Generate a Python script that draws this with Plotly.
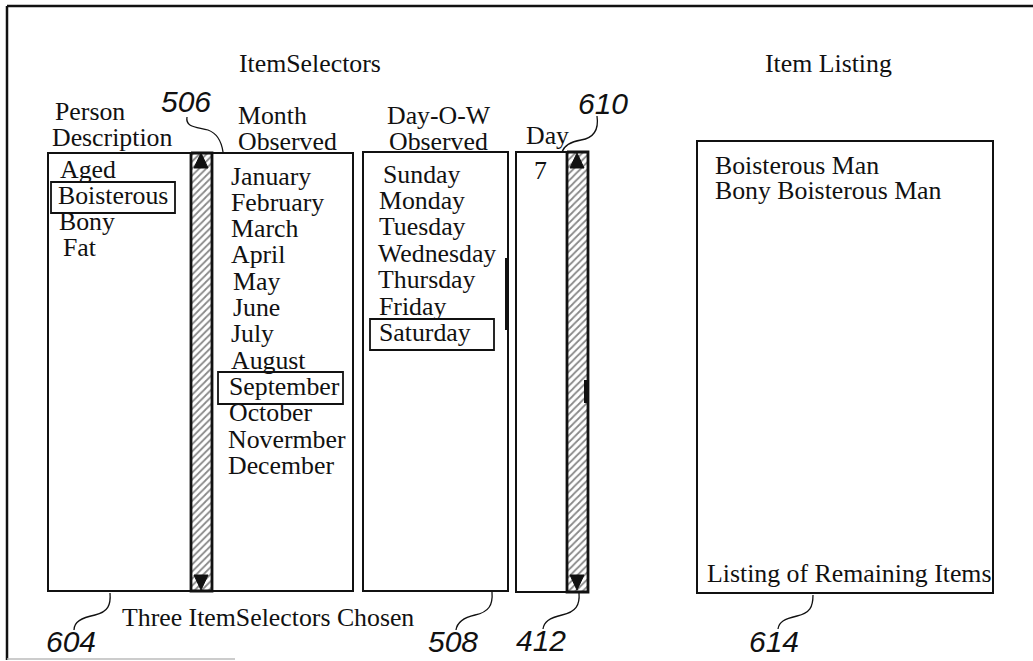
import plotly.graph_objects as go

# ---- data (text content of the diagram) ----
title_left = "ItemSelectors"
title_right = "Item Listing"
person_header = ["Person", "Description"]
month_header = ["Month", "Observed"]
dow_header = ["Day-O-W", "Observed"]
day_header = ["Day"]
person_items = ["Aged", "Boisterous", "Bony", "Fat"]
person_x = [58, 56, 57, 61]
month_items = ["January", "February", "March", "April", "May", "June", "July",
               "August", "September", "October", "Novermber", "December"]
month_x = [229, 229, 229, 229, 231, 231, 229, 229, 227, 227, 226, 226]
dow_items = ["Sunday", "Monday", "Tuesday", "Wednesday", "Thursday", "Friday", "Saturday"]
dow_x = [381, 377, 377, 376, 376, 377, 377]
day_value = ["7"]
listing_items = ["Boisterous Man", "Bony Boisterous Man"]
listing_footer = "Listing of Remaining Items"
chosen_caption = "Three ItemSelectors Chosen"
ref_numbers = ["506", "610", "604", "508", "412", "614"]

W, H = 1033, 661
SERIF = "Liberation Serif"
SANS = "Liberation Sans"
FS = 25.8
BLACK = "#111111"

fig = go.Figure()
shapes = []
ann = []

def text(x, y, s, anchor="left", size=FS, family=SERIF, italic=False):
    ann.append(dict(x=x, y=y, xref="x", yref="y", text=s, showarrow=False,
                    xanchor=anchor, yanchor="middle",
                    font=dict(family=family, size=size, color=BLACK,
                              style="italic" if italic else "normal")))

def rect(x0, y0, x1, y1, w=2):
    shapes.append(dict(type="rect", x0=x0, y0=y0, x1=x1, y1=y1, xref="x", yref="y",
                       line=dict(color=BLACK, width=w), fillcolor="rgba(0,0,0,0)"))

def line(x0, y0, x1, y1, w=2, color=BLACK):
    shapes.append(dict(type="line", x0=x0, y0=y0, x1=x1, y1=y1, xref="x", yref="y",
                       line=dict(color=color, width=w)))

def path(p, w=1.3, fill=None):
    d = dict(type="path", path=p, xref="x", yref="y", line=dict(color=BLACK, width=w))
    if fill:
        d["fillcolor"] = fill
    shapes.append(d)

def hatched(x0, y0, x1, y1):
    fig.add_trace(go.Scatter(x=[x0, x1, x1, x0, x0], y=[y0, y0, y1, y1, y0],
                             mode="lines", fill="toself",
                             line=dict(color=BLACK, width=2.8),
                             fillcolor="white",
                             fillpattern=dict(shape="/", fgcolor=BLACK, bgcolor="white",
                                              size=5, solidity=0.35),
                             hoverinfo="skip", showlegend=False))

def tri_up(cx, top, h=15, hw=7):
    path(f"M {cx-hw},{top+h} L {cx+hw},{top+h} L {cx},{top} Z", w=1, fill=BLACK)

def tri_down(cx, bottom, h=15, hw=7):
    path(f"M {cx-hw},{bottom-h} L {cx+hw},{bottom-h} L {cx},{bottom} Z", w=1, fill=BLACK)

# outer frame (top and left edges)
line(7, 6, W, 6, w=2.5)
line(7, 6, 7, 660, w=2.5)
line(7, 659, 235, 659, w=1.5, color="#bbbbbb")

# titles
text(310, 63, title_left, anchor="center")
text(828, 63, title_right, anchor="center")

# column headers
for i, s in enumerate(person_header):
    text(50 + (3 if i == 0 else 0), 111 + 26 * i, s)
for i, s in enumerate(month_header):
    text(236, 115 + 26 * i, s)
for i, s in enumerate(dow_header):
    text(385 + 2 * i, 115 + 26 * i, s)
text(524, 135, day_header[0])

# boxes
rect(48, 153, 353, 591)
hatched(191, 153, 212, 591)
rect(363, 152, 508, 591)
rect(516, 152, 588, 592)
hatched(567, 152, 588, 592)
rect(697, 141, 993, 593)
line(507, 258, 507, 330, w=4)
line(586, 380, 586, 403, w=4)

# scroll arrows
tri_up(201, 153)
tri_down(201, 590)
tri_up(577, 153)
tri_down(577, 590)

# list items
for i, s in enumerate(person_items):
    text(person_x[i], 169 + 26 * i, s)
for i, s in enumerate(month_items):
    text(month_x[i], 176 + 26.3 * i, s)
for i, s in enumerate(dow_items):
    text(dow_x[i], 174 + 26.4 * i, s)
text(532, 170, day_value[0])
for i, s in enumerate(listing_items):
    text(713, 165 + 25 * i, s)
text(705, 573, listing_footer)
text(120, 617, chosen_caption)

# selection highlight boxes
rect(51, 182, 175, 213, w=1.8)
rect(218, 372, 343, 404, w=1.8)
rect(370, 319, 494, 350, w=1.8)

# reference numerals
ref_pos = [(159, 101), (576, 103), (44, 641), (426, 641), (514, 640), (747, 641)]
for s, (x, y) in zip(ref_numbers, ref_pos):
    text(x, y, s, size=30, family=SANS, italic=True)

# leader curves
path("M 187,117 C 185,128 198,127 208,130 C 219,134 222,145 223,152")
path("M 597,116 C 599,130 593,138 581,140 C 569,142 564,146 562,152")
path("M 110,593 C 111,605 108,612 95,615 C 81,618 74,622 74,630")
path("M 492,592 C 493,605 489,612 475,615 C 462,618 457,623 456,630")
path("M 579,593 C 580,605 576,612 562,615 C 549,618 544,622 543,629")
path("M 813,595 C 813,607 810,613 797,616 C 784,619 779,622 778,629")

fig.update_layout(
    width=W, height=H,
    margin=dict(l=0, r=0, t=0, b=0),
    paper_bgcolor="white", plot_bgcolor="white",
    xaxis=dict(range=[0, W], visible=False, fixedrange=True),
    yaxis=dict(range=[H, 0], visible=False, fixedrange=True),
    shapes=shapes, annotations=ann, showlegend=False,
)
fig.write_html("out.html", config={"displayModeBar": False},
               post_script="document.body.style.margin='0';document.body.style.overflow='hidden';")
